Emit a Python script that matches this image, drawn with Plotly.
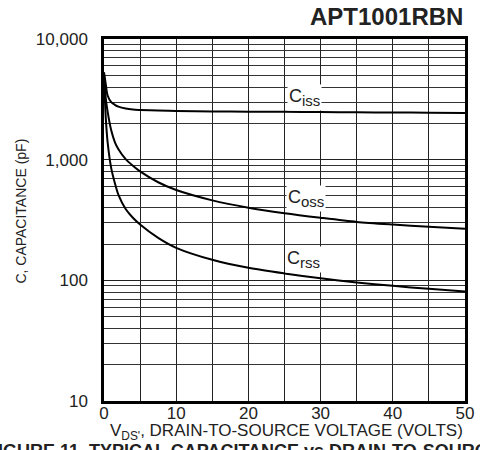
import plotly.graph_objects as go

vds = [0, 0.25, 0.5, 1, 1.5, 2, 3, 4, 5, 7.5, 10, 15, 20, 25, 30, 35, 40, 45, 50]
ciss = [5300, 4200, 3400, 3000, 2850, 2750, 2650, 2600, 2580, 2550, 2530, 2510, 2500, 2490, 2480, 2470, 2460, 2450, 2440]
coss = [5000, 3200, 2500, 1750, 1400, 1220, 1010, 890, 800, 650, 560, 460, 400, 360, 330, 305, 290, 278, 267]
crss = [4800, 2200, 1400, 850, 640, 510, 390, 330, 290, 225, 186, 148, 127, 114, 104, 96, 90, 85, 81]

x_ticks = [0, 10, 20, 30, 40, 50]
y_ticks = [10, 100, 1000, 10000]
y_ticktext = ["10", "100", "1,000", "10,000"]

FONT = "Liberation Sans, Arial, sans-serif"
W, H = 480, 450
L, R, T, B = 103.5, 465, 39, 401

def px(x):
    return (x - L) / (R - L)

def py(y):
    return (B - y) / (B - T)

fig = go.Figure()
for name, vals in [("Ciss", ciss), ("Coss", coss), ("Crss", crss)]:
    fig.add_trace(go.Scatter(x=vds, y=vals, mode="lines", name=name,
                             line=dict(color="black", width=2, shape="spline", smoothing=0.8),
                             showlegend=False, hoverinfo="skip"))

fig.update_layout(
    width=W, height=H,
    margin=dict(l=L, r=W - R, t=T, b=H - B, autoexpand=False),
    paper_bgcolor="white", plot_bgcolor="white",
    font=dict(family=FONT, size=17, color="#222"),
)
fig.update_xaxes(range=[0, 50], tickvals=x_ticks, ticks="", showgrid=True,
                 gridcolor="#222", gridwidth=1,
                 minor=dict(dtick=5, showgrid=True, gridcolor="#222", gridwidth=1),
                 showline=True, mirror=True, linecolor="black", linewidth=2.5,
                 zeroline=False, tickfont=dict(size=17), ticklabelstandoff=-5,
                 automargin=False)
fig.update_yaxes(type="log", range=[1, 4], tickvals=y_ticks, ticktext=y_ticktext,
                 ticks="", showgrid=True, gridcolor="#222", gridwidth=1,
                 minor=dict(dtick="D1", showgrid=True, gridcolor="#333", gridwidth=1),
                 showline=True, mirror=True, linecolor="black", linewidth=2.5,
                 zeroline=False, tickfont=dict(size=17), ticklabelstandoff=10,
                 automargin=False)

sub = "<span style='font-size:15px'>%s</span>"
labels = [("C<sub>" + sub % "iss" + "</sub>", 304, 97),
          ("C<sub>" + sub % "oss" + "</sub>", 306, 198),
          ("C<sub>" + sub % "rss" + "</sub>", 303, 259)]
for txt, x, y in labels:
    fig.add_annotation(text=txt, xref="paper", yref="paper", x=px(x), y=py(y),
                       xanchor="center", yanchor="middle",
                       showarrow=False, bgcolor="white", font=dict(size=18, color="#222"),
                       borderpad=1)

fig.add_annotation(text="<b>APT1001RBN</b>", xref="paper", yref="paper", x=1, y=py(16),
                   xanchor="right", yanchor="middle", showarrow=False,
                   font=dict(size=24, color="#222"))
fig.add_annotation(text="C, CAPACITANCE (pF)", xref="paper", yref="paper", x=px(20), y=py(211),
                   xanchor="center", yanchor="middle",
                   textangle=-90, showarrow=False, font=dict(size=14, color="#222"))
fig.add_annotation(text="V<sub>DS'</sub>, DRAIN-TO-SOURCE VOLTAGE (VOLTS)", xref="paper", yref="paper",
                   x=px(286), y=py(432), xanchor="center", yanchor="middle",
                   showarrow=False, font=dict(size=17, color="#222"))
fig.add_annotation(text="<b>FIGURE 11, TYPICAL CAPACITANCE vs DRAIN-TO-SOURCE VOLTAGE</b>",
                   xref="paper", yref="paper", x=px(-16), y=py(451), xanchor="left", yanchor="middle",
                   showarrow=False, font=dict(size=18, color="#222"))

fig.write_html("out.html", config={"displayModeBar": False},
               post_script="document.body.style.margin='0';document.body.style.overflow='hidden';")
